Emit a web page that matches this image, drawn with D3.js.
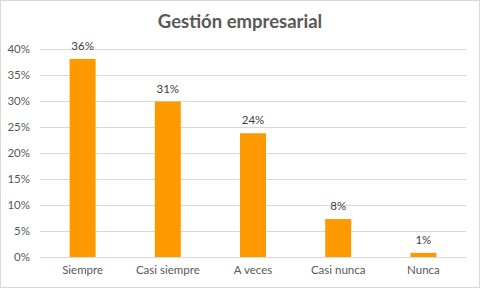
<!DOCTYPE html>
<html><head><meta charset="utf-8">
<script src="https://cdn.jsdelivr.net/npm/d3@7"></script>
<style>html,body{margin:0;padding:0;background:#fff;}svg{display:block;}</style>
</head><body>
<script>
const categories = ["Siempre","Casi siempre","A veces","Casi nunca","Nunca"];
const values = [38.1, 29.9, 23.8, 7.3, 0.8];
const valueLabels = ["36%","31%","24%","8%","1%"];
const yTicks = [0,5,10,15,20,25,30,35,40];
const title = "Gestión empresarial";

const W = 480, H = 288;
const svg = d3.select("body").append("svg").attr("width", W).attr("height", H);
svg.append("rect").attr("x",0.5).attr("y",0.5).attr("width",W-1).attr("height",H-1)
  .attr("fill","#fff").attr("stroke","#d9d9d9");

const m = {left:40, right:14, top:49, bottom:31};
const x = d3.scaleBand().domain(categories).range([m.left, W-m.right]).paddingInner(0.695).paddingOuter(0.3475);
const y = d3.scaleLinear().domain([0,40]).range([H-m.bottom, m.top]);
const font = "Lato, sans-serif";

svg.append("text").attr("x", 240).attr("y", 28).attr("text-anchor","middle")
  .attr("font-family", font).attr("font-weight","bold").attr("font-size", 18.5)
  .attr("fill","#595959").text(title);

const gy = svg.append("g").attr("transform",`translate(${m.left},0)`)
  .call(d3.axisLeft(y).tickValues(yTicks).tickSize(-(W-m.left-m.right)).tickFormat(d=>d+"%"));
gy.select(".domain").remove();
gy.selectAll(".tick line").attr("stroke","#d9d9d9").attr("shape-rendering","crispEdges");
gy.selectAll(".tick text").attr("x",-10).attr("fill","#595959").attr("font-family",font).attr("font-size",11.5);

const gx = svg.append("g").attr("transform",`translate(0,${H-m.bottom})`)
  .call(d3.axisBottom(x).tickSize(0).tickPadding(9));
gx.select(".domain").remove();
gx.selectAll(".tick text").attr("fill","#595959").attr("font-family",font).attr("font-size",11.5);

svg.append("g").selectAll("rect").data(values).join("rect")
  .attr("x",(d,i)=>x(categories[i])).attr("width",x.bandwidth())
  .attr("y",d=>y(d)).attr("height",d=>y(0)-y(d)).attr("fill","#ff9900");

svg.append("g").selectAll("text").data(values).join("text")
  .attr("x",(d,i)=>x(categories[i])+x.bandwidth()/2).attr("y",d=>y(d)-9)
  .attr("text-anchor","middle").attr("fill","#404040").attr("font-family",font).attr("font-size",11.5)
  .text((d,i)=>valueLabels[i]);
</script>
</body></html>
